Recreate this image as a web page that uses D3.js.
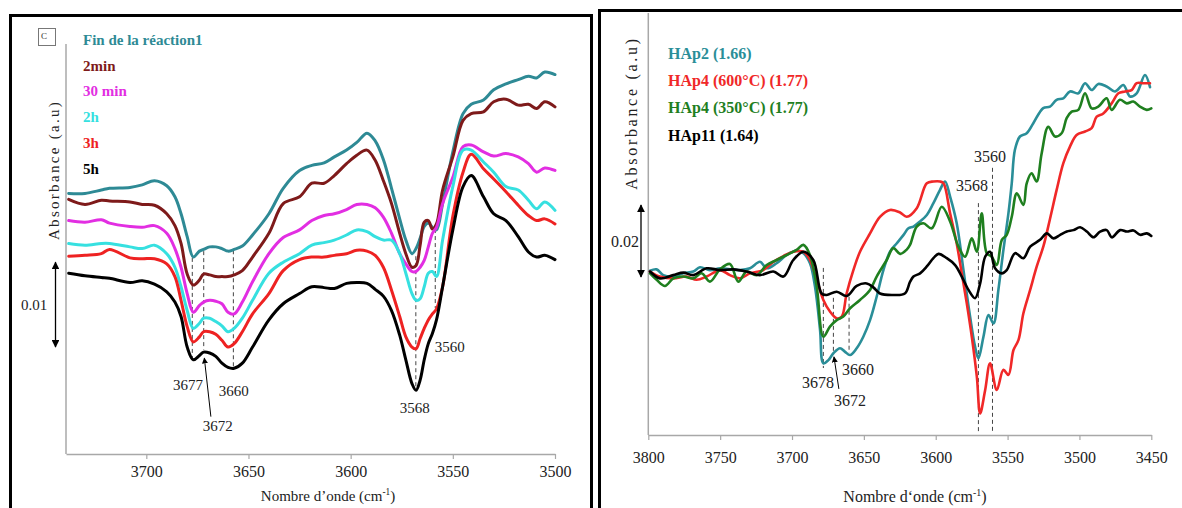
<!DOCTYPE html>
<html><head><meta charset="utf-8">
<script src="https://cdn.jsdelivr.net/npm/d3@7"></script>
<style>
body{margin:0;background:#fff}
svg{display:block}
text{font-family:"Liberation Serif","Times New Roman",serif}
</style>
</head><body>
<svg id="c" width="1182" height="508"></svg>
<script>
// ---------------- LEFT PANEL DATA (absorbance in 10^-3 a.u., offset spectra) ----------------
const wnLeft = [3738,3730,3722,3718,3708,3702,3696,3690,3686,3683,3680,3677,3674,3672,3669,3666,3663,3660,3657,3653,3648,3640,3633,3625,3619,3613,3608,3602,3597,3592,3588,3584,3580,3576,3573,3570,3568,3566,3564,3562,3560,3558,3555,3550,3545,3541,3535,3530,3524,3518,3513,3509,3505,3500];
const absFin   = [30.7,30.7,31.1,31.3,31.4,31.7,32.2,31.6,30.3,28.3,25.6,23.2,23.9,24.1,24.4,24.4,24.2,23.9,24.1,24.5,25.8,28.3,31.3,33.4,34.0,34.3,35.0,35.8,36.7,37.8,36.9,34.7,31.3,27.7,25.2,23.6,24.2,25.4,26.8,27.2,26.7,26.4,29.5,35.6,40.1,41.2,41.7,42.9,43.6,44.1,44.5,44.3,45.0,44.7];
const abs2min  = [30.0,29.4,29.9,29.8,29.7,29.4,29.3,28.3,26.9,24.8,21.2,19.9,20.5,21.2,21.1,20.9,20.9,20.9,21.1,21.6,23.2,26.0,29.5,30.3,31.9,31.9,32.8,34.2,35.2,35.8,34.6,32.2,29.5,26.0,23.6,22.0,22.2,24.6,27.3,27.5,26.5,27.1,31.1,35.0,39.3,40.1,40.3,41.5,41.8,41.1,41.2,40.7,41.5,40.9];
const abs30min = [27.5,27.3,27.6,27.2,26.8,26.7,26.9,26.0,24.2,22.0,18.9,16.7,17.5,17.9,18.1,18.0,17.7,16.7,16.5,17.9,20.3,23.6,25.5,26.4,27.5,28.1,28.3,28.8,29.4,29.4,29.0,27.9,26.0,23.6,22.4,21.5,21.5,22.0,22.8,24.4,26.0,26.7,29.5,32.6,36.2,36.4,35.6,35.1,35.4,35.0,34.2,33.2,33.7,33.4];
const abs2h    = [24.8,24.6,24.8,24.8,24.4,24.2,24.6,23.6,22.0,19.7,16.9,14.8,15.4,16.0,16.0,15.6,15.1,14.4,14.8,16.0,18.1,21.3,22.6,23.6,24.6,24.9,25.2,25.8,26.4,26.2,25.6,25.2,25.2,23.6,21.3,18.9,18.1,18.3,19.7,21.3,21.5,20.9,25.2,31.5,35.8,35.8,34.4,33.2,31.5,31.1,29.9,28.9,29.7,28.7];
const abs3h    = [23.3,23.4,23.6,24.1,23.1,23.0,23.0,22.4,20.9,18.1,15.0,13.2,13.8,14.4,14.4,14.1,13.4,12.6,13.0,14.4,16.5,18.9,21.6,22.9,23.2,23.2,23.4,23.6,24.0,23.9,23.4,22.0,19.3,16.2,13.8,12.6,12.4,13.6,14.8,15.8,16.5,17.1,19.7,28.0,33.2,35.3,33.6,32.4,30.9,29.3,28.1,27.5,27.7,27.1];
const abs5h    = [21.3,21.0,20.8,20.7,20.2,20.4,20.0,19.1,17.9,16.2,12.6,11.1,11.6,12.0,11.9,11.5,10.7,10.2,10.1,10.7,12.6,15.8,17.7,18.9,19.7,19.6,19.5,20.1,20.2,20.1,19.4,18.6,16.9,14.0,11.1,8.3,7.5,8.7,11.1,13.0,14.2,15.8,19.7,26.4,31.5,32.8,30.3,28.3,27.5,25.6,23.8,23.2,23.4,22.9];
const leftNames  = ["Fin de la réaction1","2min","30 min","2h","3h","5h"];
const leftColors = ["#2E8A95","#7E1A1A","#E22EE2","#36E0E0","#EE2222","#000000"];
const leftTicks  = [3700,3650,3600,3550,3500];
const leftPeaks  = [
  {wn:3677.5, top:23.1, bottom:11.3},
  {wn:3671.9, top:23.9, bottom:12.3},
  {wn:3657.4, top:24.0, bottom:10.2},
  {wn:3568.1, top:23.3, bottom:7.5},
  {wn:3558.6, top:26.5, bottom:17.2}
];
const leftPeakLabels = [
  {text:"3677", wn:3679.6, v:8.1},
  {text:"3660", wn:3657.2, v:7.4},
  {text:"3672", wn:3665.0, v:3.3},
  {text:"3568", wn:3568.6, v:5.5},
  {text:"3560", wn:3551.5, v:12.6}
];
const leftArrow = {fromWn:3668.4, fromV:4.4, toWn:3671.6, toV:11.3};
const leftScaleBar = {label:"0.01", from:12.6, to:22.6};

// ---------------- RIGHT PANEL DATA ([wavenumber, absorbance 10^-3 a.u.]) ----------------
const hap2 = [[3798.8,45.6],[3794.2,46.0],[3789.6,44.4],[3782.6,44.0],[3775.6,44.9],[3768.7,45.4],[3764.0,46.6],[3757.1,45.8],[3750.1,46.3],[3743.2,46.0],[3736.2,45.8],[3729.2,46.3],[3722.3,48.1],[3717.6,46.3],[3710.7,47.7],[3703.7,50.0],[3696.8,51.2],[3692.1,50.5],[3687.5,47.7],[3684.0,41.2],[3680.5,29.2],[3678.2,19.9],[3674.7,20.8],[3671.2,22.7],[3666.6,24.1],[3663.1,23.1],[3659.6,22.2],[3655.0,24.1],[3650.4,27.3],[3645.7,31.9],[3641.1,38.4],[3636.4,45.8],[3631.8,50.9],[3627.2,53.2],[3622.5,55.5],[3619.0,57.4],[3615.5,57.9],[3610.9,59.3],[3606.2,61.1],[3601.6,64.4],[3597.0,68.1],[3593.5,70.4],[3590.0,66.2],[3585.4,58.8],[3580.7,45.8],[3576.1,32.9],[3572.6,24.5],[3570.3,21.3],[3566.8,27.3],[3563.3,33.3],[3559.8,31.0],[3556.4,40.3],[3552.9,51.4],[3549.4,61.6],[3547.1,69.9],[3544.9,79.2],[3541.4,82.9],[3536.7,83.8],[3532.1,86.6],[3525.2,90.8],[3520.5,91.2],[3515.9,93.1],[3511.2,93.5],[3506.6,95.4],[3500.8,94.9],[3496.1,97.7],[3491.5,95.8],[3486.9,97.5],[3481.1,96.8],[3475.3,95.4],[3469.5,97.2],[3464.8,94.0],[3460.2,94.9],[3454.4,100.0],[3450.9,96.6]];
const hap4_600 = [[3798.8,45.4],[3791.9,44.0],[3782.6,43.5],[3773.3,44.0],[3766.4,43.1],[3759.4,44.0],[3750.1,45.8],[3743.2,44.4],[3736.2,43.5],[3729.2,44.9],[3720.0,45.8],[3713.0,48.1],[3706.0,49.7],[3699.1,50.9],[3692.1,50.9],[3687.5,48.6],[3682.8,43.1],[3678.2,37.5],[3673.6,34.3],[3668.9,32.4],[3665.4,32.9],[3662.0,39.3],[3657.3,45.8],[3652.7,50.9],[3645.7,56.0],[3638.8,60.6],[3631.8,62.5],[3624.8,61.8],[3620.2,60.6],[3613.2,63.0],[3606.2,69.9],[3601.6,70.4],[3597.0,70.4],[3594.6,69.9],[3590.0,61.6],[3585.4,53.2],[3581.9,44.9],[3578.4,36.6],[3574.9,27.3],[3571.4,16.2],[3569.1,6.0],[3565.6,12.5],[3562.2,19.9],[3557.5,12.5],[3552.9,18.1],[3549.4,16.7],[3545.9,23.6],[3542.4,26.4],[3539.0,33.8],[3534.3,40.3],[3529.7,46.8],[3525.0,52.5],[3520.5,60.0],[3515.9,68.0],[3511.2,75.5],[3506.6,80.1],[3502.0,83.3],[3496.1,84.3],[3491.5,85.2],[3488.0,88.4],[3483.4,89.3],[3477.6,92.1],[3472.9,94.9],[3468.3,95.4],[3463.7,95.8],[3460.2,97.7],[3455.5,97.7],[3450.9,97.7]];
const hap4_350 = [[3798.8,44.9],[3794.2,43.1],[3788.4,41.4],[3782.6,43.5],[3775.6,44.0],[3768.7,43.5],[3762.9,44.9],[3757.1,42.6],[3750.1,46.0],[3743.2,47.5],[3737.4,42.6],[3731.6,45.4],[3724.6,44.4],[3717.6,47.2],[3710.7,48.6],[3703.7,50.0],[3696.8,51.4],[3692.1,52.8],[3687.5,50.0],[3682.8,41.2],[3678.2,27.3],[3673.6,30.1],[3668.9,31.9],[3664.3,32.9],[3659.6,35.2],[3652.7,37.5],[3645.7,40.3],[3641.1,44.0],[3634.1,48.6],[3629.5,51.9],[3624.8,50.3],[3620.2,51.5],[3617.9,52.8],[3613.2,57.9],[3608.6,58.8],[3602.8,57.4],[3595.8,63.4],[3590.0,59.3],[3584.2,52.3],[3579.6,49.5],[3574.9,54.6],[3571.4,50.9],[3568.0,61.6],[3564.5,50.5],[3561.0,49.5],[3557.5,47.2],[3554.0,54.2],[3550.6,55.6],[3547.1,60.6],[3543.6,67.1],[3539.0,63.9],[3536.7,69.9],[3533.3,72.7],[3529.8,70.4],[3526.3,78.2],[3521.7,85.6],[3517.0,82.9],[3512.4,83.8],[3508.9,88.0],[3505.4,89.8],[3500.8,90.3],[3496.1,94.9],[3491.5,90.7],[3486.9,91.2],[3481.1,93.5],[3477.6,90.3],[3471.8,93.1],[3467.1,92.1],[3462.5,92.6],[3457.9,91.2],[3453.2,90.3],[3450.0,90.7]];
const hap11 = [[3798.8,45.4],[3791.9,43.5],[3782.6,44.4],[3775.6,45.1],[3768.7,44.4],[3759.4,46.3],[3750.1,45.8],[3740.8,46.0],[3731.6,45.4],[3722.3,44.4],[3713.0,45.4],[3706.0,44.0],[3699.1,48.6],[3692.1,50.9],[3685.2,48.6],[3679.4,39.3],[3675.9,38.9],[3668.9,39.8],[3662.0,38.6],[3655.0,41.4],[3648.0,42.1],[3643.4,41.0],[3638.8,39.3],[3629.5,38.9],[3621.5,39.3],[3617.9,42.5],[3615.5,44.0],[3610.9,44.9],[3606.2,46.8],[3601.6,49.1],[3598.1,50.3],[3592.3,49.1],[3586.5,47.2],[3581.9,44.0],[3577.2,40.3],[3572.6,38.0],[3569.1,42.1],[3565.6,49.5],[3562.2,50.9],[3558.7,46.3],[3554.0,44.9],[3550.6,45.8],[3544.8,50.5],[3539.0,49.1],[3534.3,52.3],[3527.4,54.2],[3522.7,56.0],[3518.1,54.6],[3513.4,55.6],[3508.8,56.5],[3504.2,56.9],[3499.5,57.7],[3494.9,56.5],[3490.2,54.9],[3485.6,56.5],[3481.0,56.9],[3477.5,54.9],[3471.7,56.9],[3467.0,56.5],[3462.4,56.8],[3457.8,55.6],[3453.1,56.0],[3450.0,55.3]];
const rightNames  = ["HAp2 (1.66)","HAp4 (600°C) (1.77)","HAp4 (350°C) (1.77)","HAp11 (1.64)"];
const rightColors = ["#2A8E98","#F02828","#1F7F1F","#000000"];
const rightTicks  = [3800,3750,3700,3650,3600,3550,3500,3450];
const rightPeaks  = [
  {wn:3678.2, top:46.4, bottom:18.6},
  {wn:3671.2, top:38.1, bottom:22.8},
  {wn:3660.3, top:38.4, bottom:22.8},
  {wn:3570.3, top:64.4, bottom:0.5},
  {wn:3560.5, top:74.2, bottom:0.5}
];
const rightPeakLabels = [
  {text:"3678", wn:3681.9, v:14.7},
  {text:"3660", wn:3654.1, v:18.1},
  {text:"3672", wn:3659.6, v:9.7},
  {text:"3568", wn:3574.7, v:69.2},
  {text:"3560", wn:3562.2, v:77.5}
];
const rightArrow = {fromWn:3667.4, fromV:12.8, toWn:3670.8, toV:21.7};
const rightScaleBar = {label:"0.02", from:43.9, to:63.9};

// ---------------- DRAWING ----------------
const svg = d3.select("#c");
const defs = svg.append("defs");
defs.append("marker").attr("id","ah").attr("viewBox","0 0 10 10")
  .attr("refX",9).attr("refY",5).attr("markerWidth",6).attr("markerHeight",6)
  .attr("orient","auto-start-reverse")
  .append("path").attr("d","M0,0L10,5L0,10z").attr("fill","#000");

// panel frames
svg.append("path").attr("d","M10.5,520V15.5H591.5V520").attr("fill","none").attr("stroke","#000").attr("stroke-width",3);
svg.append("path").attr("d","M599.5,520V10.5H1182").attr("fill","none").attr("stroke","#000").attr("stroke-width",3);

function panel(cfg){
  const g = svg.append("g");
  const x = d3.scaleLinear().domain(cfg.xDomain).range([cfg.x0, cfg.x1]);
  const y = d3.scaleLinear().domain(cfg.yDomain).range([cfg.yB, cfg.yT]);
  g.append("line").attr("x1",cfg.x0).attr("x2",cfg.x0).attr("y1",cfg.yT).attr("y2",cfg.yB)
    .attr("stroke","#a8a8a8").attr("stroke-width",1.5);
  const ax = g.append("g").attr("transform",`translate(0,${cfg.yB})`)
    .call(d3.axisBottom(x).tickValues(cfg.ticks).tickFormat(d3.format("d")).tickSize(5).tickSizeOuter(0));
  ax.select(".domain").attr("stroke","#a8a8a8").attr("stroke-width",1.5);
  ax.selectAll(".tick line").attr("stroke","#a8a8a8").attr("stroke-width",1.2);
  ax.selectAll(".tick text").attr("y",cfg.tickDy).attr("dy","0.35em")
    .attr("font-family","Liberation Serif").attr("font-size",16).attr("fill","#222");
  const xt = g.append("text").attr("x",cfg.xTitleX).attr("y",cfg.xTitleY).attr("text-anchor","middle")
    .attr("font-size",cfg.xTitleSize).attr("fill","#222");
  xt.append("tspan").text(cfg.xTitleText);
  xt.append("tspan").text("-1").attr("font-size",cfg.xTitleSize*0.62).attr("dy",-6);
  xt.append("tspan").text(")").attr("dy",6);
  g.append("text").attr("transform",`translate(${cfg.yTitleX},${cfg.yTitleY}) rotate(-90)`)
    .attr("text-anchor","middle").attr("dy","0.35em").attr("font-size",cfg.yTitleSize)
    .attr("letter-spacing",cfg.yTitleLS).attr("fill","#222").text("Absorbance (a.u)");
  g.selectAll(".pk").data(cfg.peaks).join("line")
    .attr("x1",d=>x(d.wn)).attr("x2",d=>x(d.wn)).attr("y1",d=>y(d.top)).attr("y2",d=>y(d.bottom))
    .attr("stroke","#444").attr("stroke-width",1).attr("stroke-dasharray","4,3");
  const line = d3.line().x(d=>x(d[0])).y(d=>y(d[1])).curve(d3.curveCatmullRom.alpha(0.5));
  g.selectAll(".crv").data(cfg.series).join("path")
    .attr("d",d=>line(d.pts)).attr("fill","none").attr("stroke",d=>d.color)
    .attr("stroke-width",cfg.lw).attr("stroke-linejoin","round").attr("stroke-linecap","round");
  g.selectAll(".pl").data(cfg.peakLabels).join("text")
    .attr("x",d=>x(d.wn)).attr("y",d=>y(d.v)).attr("dy","0.35em").attr("text-anchor","middle")
    .attr("font-size",cfg.peakSize).attr("fill","#222").text(d=>d.text);
  g.append("line").attr("x1",x(cfg.arrow.fromWn)).attr("y1",y(cfg.arrow.fromV))
    .attr("x2",x(cfg.arrow.toWn)).attr("y2",y(cfg.arrow.toV))
    .attr("stroke","#000").attr("stroke-width",1).attr("marker-end","url(#ah)");
  g.append("line").attr("x1",cfg.barX).attr("x2",cfg.barX)
    .attr("y1",y(cfg.bar.from)).attr("y2",y(cfg.bar.to))
    .attr("stroke","#000").attr("stroke-width",1.3)
    .attr("marker-start","url(#ah)").attr("marker-end","url(#ah)");
  g.append("text").attr("x",cfg.barLabelX).attr("y",y((cfg.bar.from+cfg.bar.to)/2)).attr("dy","0.35em")
    .attr("text-anchor","middle").attr("font-size",cfg.barSize).attr("fill","#222").text(cfg.bar.label);
  g.selectAll(".lg").data(cfg.series).join("text")
    .attr("x",cfg.legX).attr("y",(d,i)=>cfg.legY0+i*cfg.legDy).attr("dy","0.35em")
    .attr("font-weight","bold").attr("font-size",cfg.legSize).attr("fill",d=>d.color).text(d=>d.name);
  return g;
}

const leftAbs = [absFin,abs2min,abs30min,abs2h,abs3h,abs5h];
panel({
  xDomain:[3739.3,3500], yDomain:[0,48.3], x0:66, x1:555, yB:454, yT:44,
  ticks:leftTicks, tickDy:17,
  xTitleText:"Nombre d’onde (cm", xTitleX:328, xTitleY:501, xTitleSize:15,
  yTitleX:54, yTitleY:170, yTitleSize:15, yTitleLS:2.3,
  peaks:leftPeaks, peakLabels:leftPeakLabels, peakSize:15, arrow:leftArrow,
  series:leftAbs.map((a,i)=>({name:leftNames[i], color:leftColors[i], pts:wnLeft.map((w,j)=>[w,a[j]])})),
  lw:3, bar:leftScaleBar, barX:55.5, barLabelX:34, barSize:15,
  legX:83, legY0:39.5, legDy:25.8, legSize:15
});
svg.append("rect").attr("x",38.5).attr("y",28.5).attr("width",17).attr("height",17)
  .attr("fill","#fff").attr("stroke","#777").attr("stroke-width",1);
svg.append("text").attr("x",44).attr("y",36).attr("dy","0.35em").attr("text-anchor","middle")
  .attr("font-family","DejaVu Sans").attr("font-size",9).attr("fill","#333").text("C");

const rightSets = [hap2,hap4_600,hap4_350,hap11];
panel({
  xDomain:[3800,3450], yDomain:[0,117.2], x0:648.3, x1:1151.3, yB:435, yT:13,
  ticks:rightTicks, tickDy:22,
  xTitleText:"Nombre d‘onde (cm", xTitleX:915, xTitleY:502, xTitleSize:16,
  yTitleX:631, yTitleY:113, yTitleSize:16, yTitleLS:2.7,
  peaks:rightPeaks, peakLabels:rightPeakLabels, peakSize:16, arrow:rightArrow,
  series:rightSets.map((a,i)=>({name:rightNames[i], color:rightColors[i], pts:a})),
  lw:2.6, bar:rightScaleBar, barX:641, barLabelX:625, barSize:16,
  legX:668, legY0:53, legDy:27.3, legSize:16
});
</script>
</body></html>
